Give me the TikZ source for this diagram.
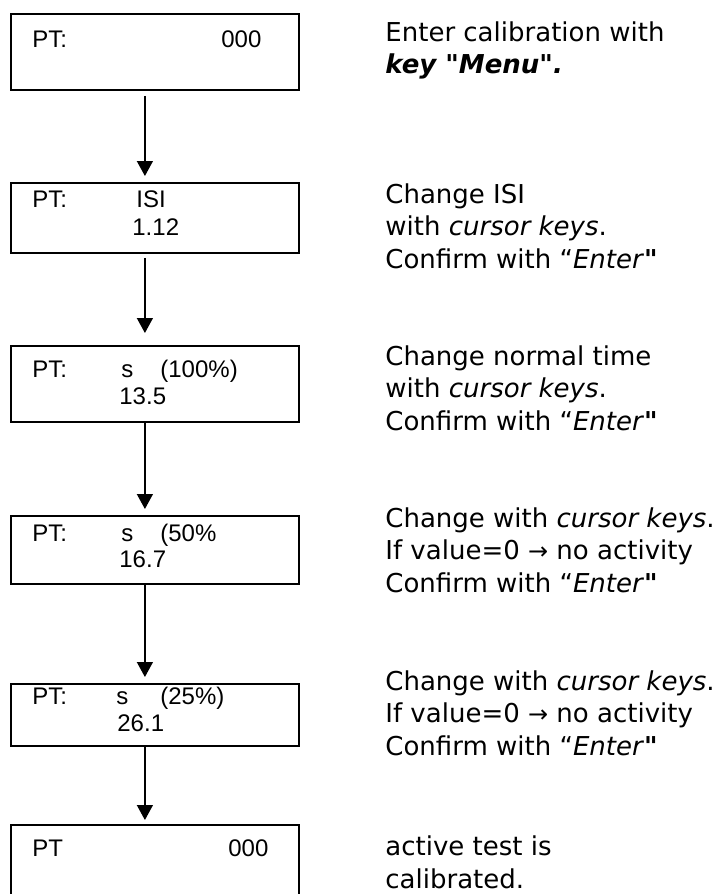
\documentclass[tikz,border=0pt]{standalone}
\usepackage{fontspec}
\setmainfont{DejaVu Sans}[Ligatures=TeXOff]
\newfontfamily\lcdfont{Liberation Sans}
\usetikzlibrary{arrows.meta}

\tikzset{
  lcd/.style={draw, line width=0.9pt, anchor=north west, minimum width=144pt, inner sep=0pt},
  lcdtxt/.style={anchor=base west, inner sep=0pt, font=\lcdfont\fontsize{12}{14}\selectfont},
  note/.style={anchor=base west, inner sep=0pt, align=left, font=\fontsize{13}{16.25}\selectfont},
  flow/.style={line width=0.7pt, -{Triangle[width=8pt,length=7.5pt]}}
}

\begin{document}
\begin{tikzpicture}[x=0.5pt, y=-0.5pt]
\clip (0,0) rectangle (725,894);
% display boxes
\node[lcd, minimum height=38pt] (b1) at (10,13) {};
\node[lcd, minimum height=35pt] (b2) at (10,182) {};
\node[lcd, minimum height=38pt] (b3) at (10,345) {};
\node[lcd, minimum height=34pt] (b4) at (10,515) {};
\node[lcd, minimum height=31pt] (b5) at (10,683) {};
\node[lcd, minimum height=40pt] (b6) at (10,824) {};
% display texts
\node[lcdtxt] (p1) at (32,47) {PT:};
\node[lcdtxt] (v1) at (221,47) {000};
\node[lcdtxt] (p2) at (32,207) {PT:};
\node[lcdtxt] (u2) at (136,207) {ISI};
\node[lcdtxt] (v2) at (132,235) {1.12};
\node[lcdtxt] (p3) at (32,377) {PT:};
\node[lcdtxt] (u3) at (121,377) {s};
\node[lcdtxt] (r3) at (160,377) {(100\%)};
\node[lcdtxt] (v3) at (119,404) {13.5};
\node[lcdtxt] (p4) at (32,541) {PT:};
\node[lcdtxt] (u4) at (121,541) {s};
\node[lcdtxt] (r4) at (160,541) {(50\%};
\node[lcdtxt] (v4) at (119,567) {16.7};
\node[lcdtxt] (p5) at (32,704) {PT:};
\node[lcdtxt] (u5) at (116,704) {s};
\node[lcdtxt] (r5) at (160,704) {(25\%)};
\node[lcdtxt] (v5) at (117,731) {26.1};
\node[lcdtxt] (p6) at (32,856) {PT};
\node[lcdtxt] (v6) at (228,856) {000};
% flow
\draw[flow] ([xshift=-5pt,yshift=-2.5pt]b1.south) -- ([xshift=-5pt,yshift=3pt]b2.north);
\draw[flow] ([xshift=-5pt,yshift=-2pt]b2.south) -- ([xshift=-5pt,yshift=6pt]b3.north);
\draw[flow] ([xshift=-5pt]b3.south) -- ([xshift=-5pt,yshift=3pt]b4.north);
\draw[flow] ([xshift=-5pt]b4.south) -- ([xshift=-5pt,yshift=3pt]b5.north);
\draw[flow] ([xshift=-5pt]b5.south) -- ([xshift=-5pt,yshift=2pt]b6.north);
% notes (anchored on the last line)
\node[note] (n1) at (385,73.5) {Enter calibration with\\\textbf{\textit{key "Menu".}}};
\node[note] (n2) at (385,268) {Change ISI\\with \textit{cursor keys}.\\Confirm with “\textit{Enter}\textbf{"}};
\node[note] (n3) at (385,430) {Change normal time\\with \textit{cursor keys}.\\Confirm with “\textit{Enter}\textbf{"}};
\node[note] (n4) at (385,592) {Change with \textit{cursor keys}.\\If value=0 {\large →} no activity\\Confirm with “\textit{Enter}\textbf{"}};
\node[note] (n5) at (385,755) {Change with \textit{cursor keys}.\\If value=0 {\large →} no activity\\Confirm with “\textit{Enter}\textbf{"}};
\node[note] (n6) at (385,888) {active test is\\calibrated.};
\end{tikzpicture}
\end{document}
